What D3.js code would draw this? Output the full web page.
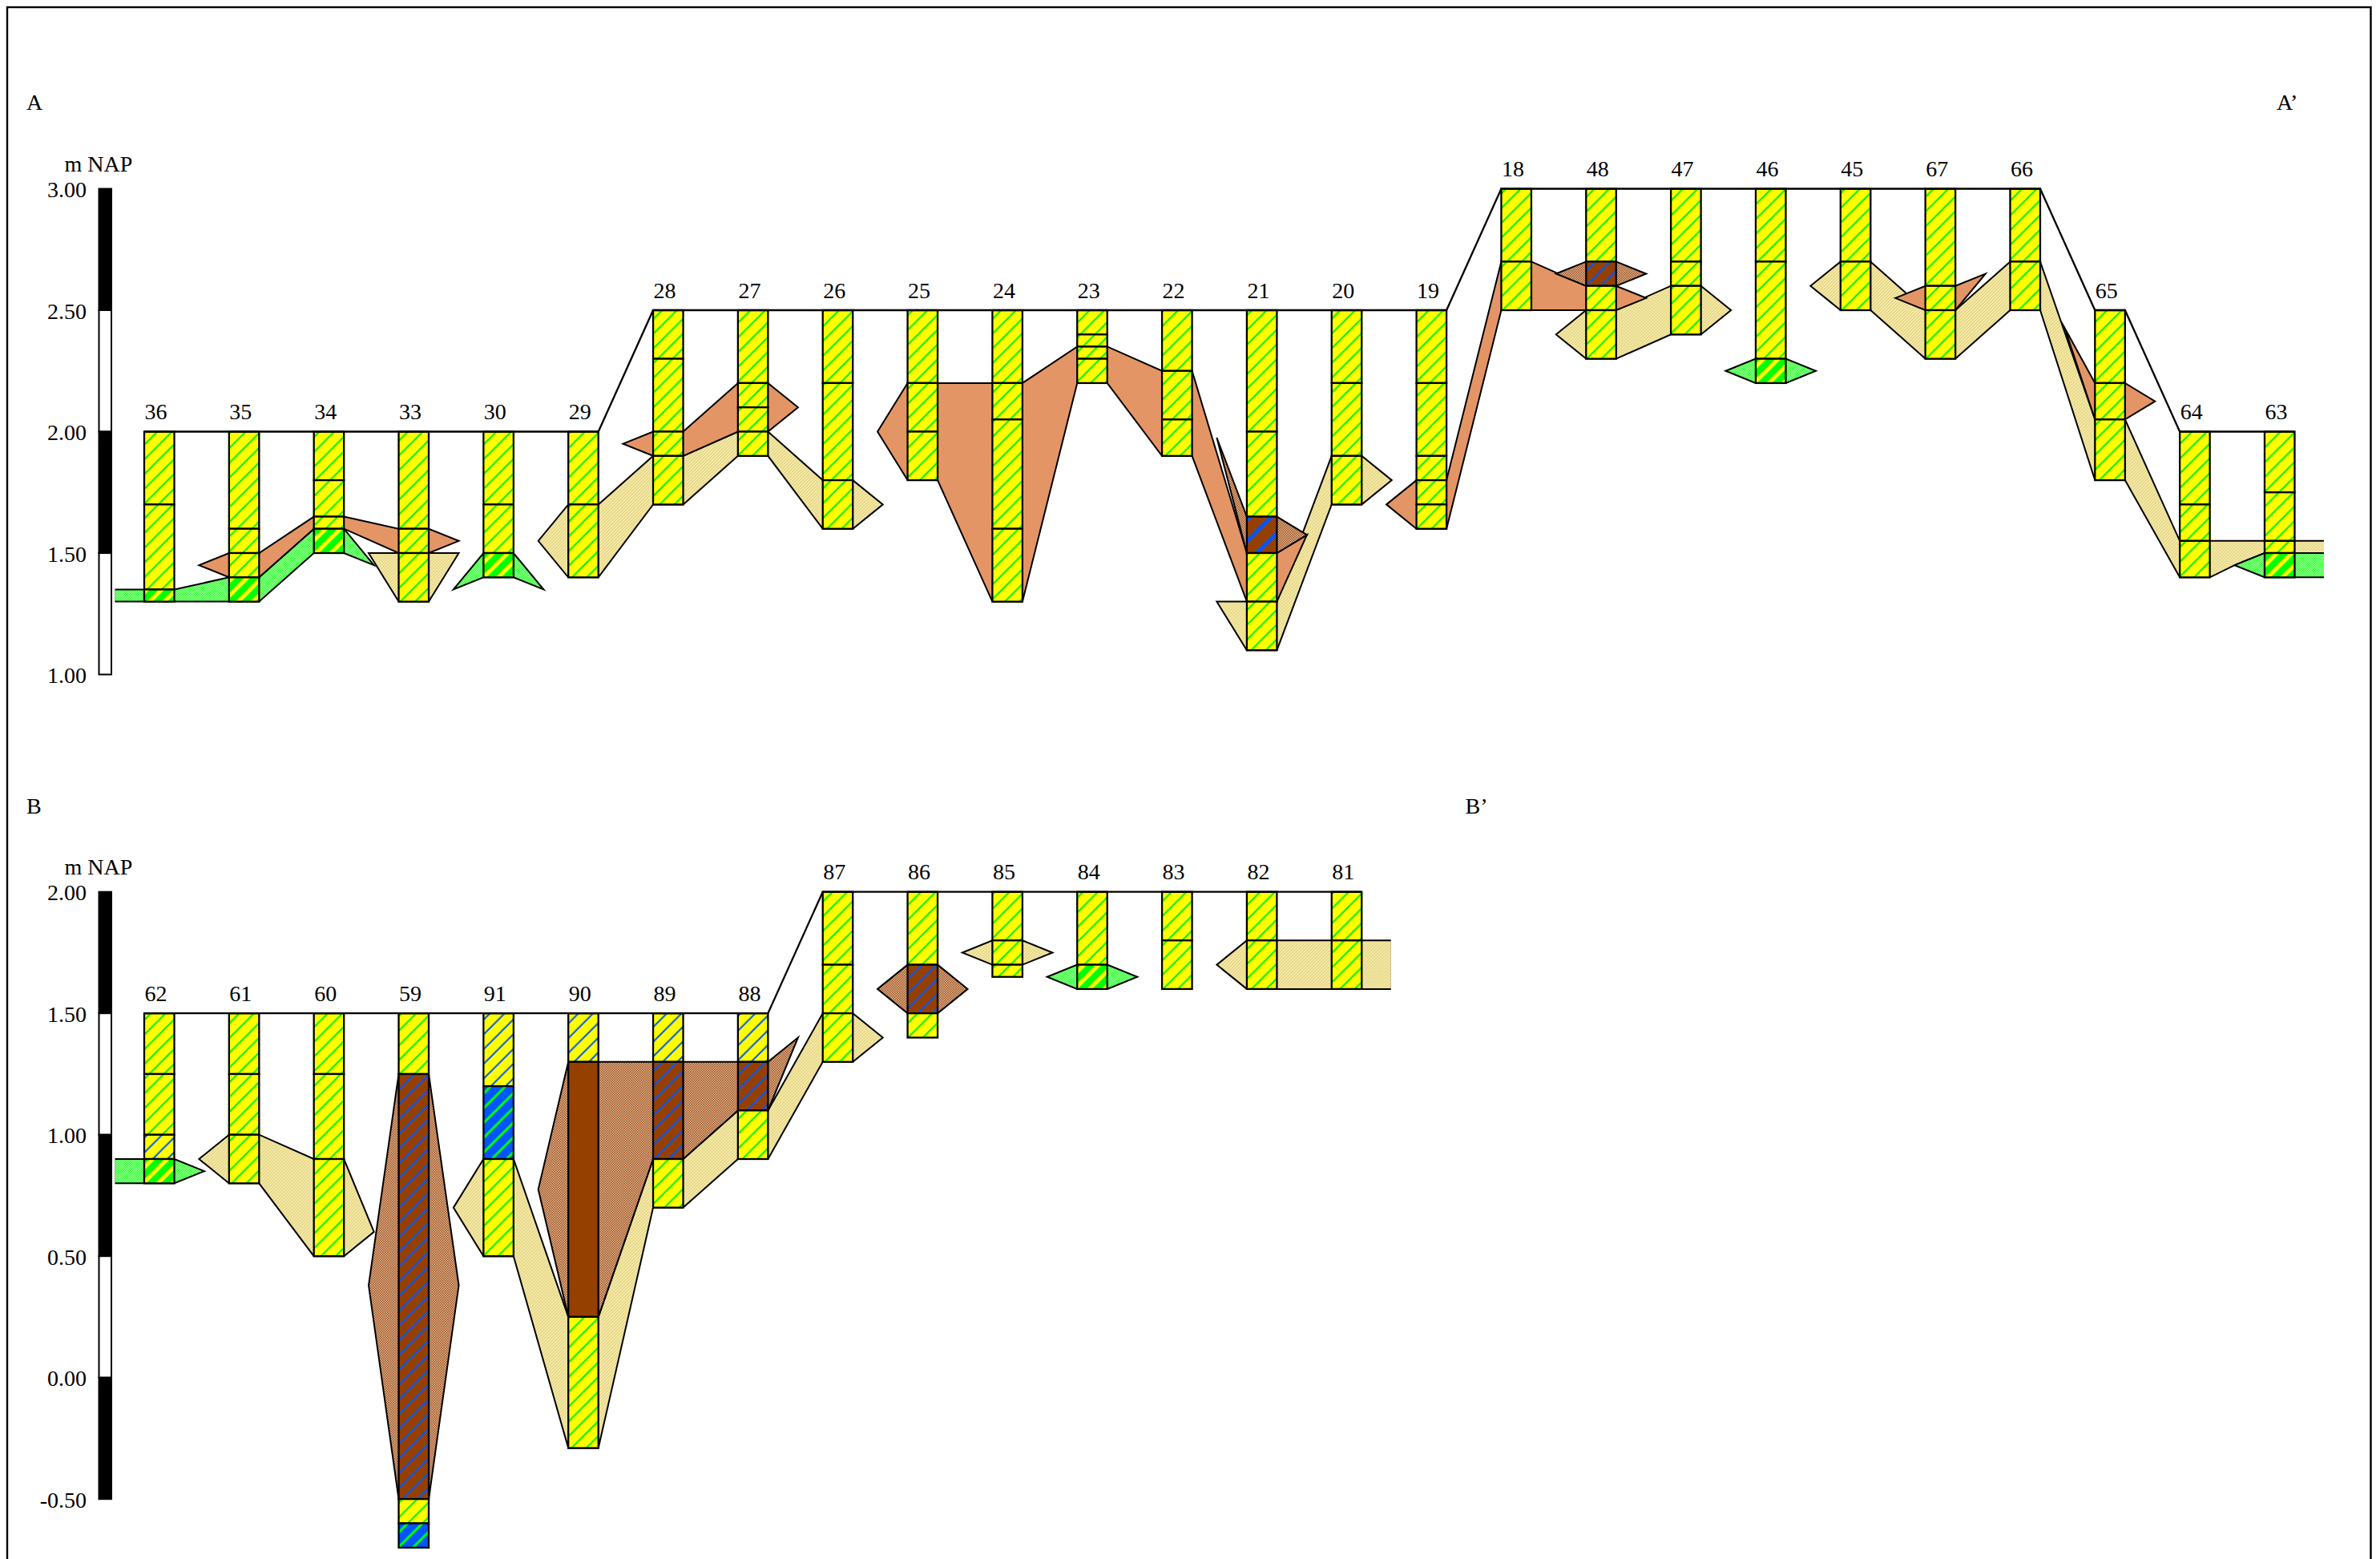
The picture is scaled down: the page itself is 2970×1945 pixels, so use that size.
<!DOCTYPE html>
<html>
<head>
<meta charset="utf-8">
<script src="https://d3js.org/d3.v7.min.js"></script>
<style>
  html, body { margin: 0; background: #fff; overflow: hidden; }
  text { font-family: "Liberation Serif", serif; font-size: 28px; fill: #000; }
</style>
</head>
<body>
<svg id="chart" width="2970" height="1945"></svg>
<script>
// Section A: boreholes, layer boundaries (m NAP) and the lithology of each layer
const idsA = ["36","35","34","33","30","29","28","27","26","25","24","23","22","21","20","19","18","48","47","46","45","67","66","65","64","63"];
const levelsA = [
  [2,1.7,1.35,1.3], [2,1.6,1.5,1.4,1.3], [2,1.8,1.65,1.6,1.5], [2,1.6,1.5,1.3], [2,1.7,1.5,1.4], [2,1.7,1.4],
  [2.5,2.3,2,1.9,1.7], [2.5,2.2,2.1,2,1.9], [2.5,2.2,1.8,1.6], [2.5,2.2,2,1.8], [2.5,2.2,2.05,1.6,1.3],
  [2.5,2.4,2.35,2.3,2.2], [2.5,2.25,2.05,1.9], [2.5,2,1.65,1.5,1.3,1.1], [2.5,2.2,1.9,1.7], [2.5,2.2,1.9,1.8,1.7,1.6],
  [3,2.7,2.5], [3,2.7,2.6,2.5,2.3], [3,2.7,2.6,2.4], [3,2.7,2.3,2.2], [3,2.7,2.5], [3,2.6,2.5,2.3], [3,2.7,2.5],
  [2.5,2.2,2.05,1.8], [2,1.7,1.55,1.4], [2,1.75,1.55,1.5,1.4]
];
const kindsA = [
  "ssg","sssg","sssg","sss","ssg","ss",
  "ssss","ssss","sss","sss","ssss",
  "ssss","sss","sstss","sss","sssss",
  "ss","sbss","sss","ssg","ss","sss","ss",
  "sss","sss","sssg"
];
const bodiesA = [
  ["tan","29<:1.55 29L:1.7 29R:1.7 28L:1.9 28R:1.9 27L:2 27R:2 26L:1.8 26R:1.8 26>:1.7 26R:1.6 26L:1.6 27R:1.9 27L:1.9 28R:1.7 28L:1.7 29R:1.4 29L:1.4"],
  ["tan","33<:1.5 33>:1.5 33R:1.3 33L:1.3"],
  ["tan","21<:1.3 21R:1.3 20L:1.9 20R:1.9 20>:1.8 20R:1.7 20L:1.7 21R:1.1 21L:1.1"],
  ["tan","48<:2.4 48L:2.5 48R:2.5 47L:2.6 47R:2.6 47>:2.5 47R:2.4 47L:2.4 48R:2.3 48L:2.3"],
  ["tan","45<:2.6 45L:2.7 45R:2.7 67L:2.5 67R:2.5 66L:2.7 66R:2.7 65L:2.05 65R:2.05 64L:1.55 63>:1.55 63>:1.5 63L:1.5 63<:1.45 64R:1.4 64L:1.4 65R:1.8 65L:1.8 66R:2.5 66L:2.5 67R:2.3 67L:2.3 45R:2.5 45L:2.5"],
  ["peat","36<:1.35 36R:1.35 35L:1.4 35R:1.4 34L:1.6 34R:1.6 34>:1.45 34R:1.5 34L:1.5 35R:1.3 36<:1.3"],
  ["peat","30<:1.35 30L:1.5 30R:1.5 30>:1.35 30R:1.4 30L:1.4"],
  ["peat","46<:2.25 46L:2.3 46R:2.3 46>:2.25 46R:2.2 46L:2.2"],
  ["peat","63<:1.45 63L:1.5 63>:1.5 63>:1.4 63L:1.4"],
  ["clay","35<:1.45 35L:1.5 35R:1.5 34L:1.65 34R:1.65 33L:1.6 33R:1.6 33>:1.55 33R:1.5 33L:1.5 34R:1.6 34L:1.6 35R:1.4 35L:1.4"],
  ["clay","28<:1.95 28L:2 28R:2 27L:2.2 27R:2.2 27>:2.1 27R:2 27L:2 28R:1.9 28L:1.9"],
  ["clay","25<:2 25L:2.2 24R:2.2 23L:2.35 23R:2.35 22L:2.25 22R:2.25 21L:1.5 21R:1.5 21>:1.575 21R:1.3 21L:1.3 22R:1.9 22L:1.9 23R:2.2 23L:2.2 24R:1.3 24L:1.3 25R:1.8 25L:1.8"],
  ["clay","19<:1.7 19L:1.8 19R:1.8 18L:2.7 18R:2.7 48L:2.6 48R:2.6 48>:2.55 48R:2.5 18L:2.5 19R:1.6 19L:1.6"],
  ["clay","67<:2.55 67L:2.6 67R:2.6 67>:2.65 67R:2.5 67L:2.5"],
  ["clay","65<:2.425 65L:2.2 65R:2.2 65>:2.125 65R:2.05 65L:2.05"],
  ["silt","21<:1.975 21L:1.65 21R:1.65 21>:1.575 21R:1.5 21L:1.5"],
  ["silt","48<:2.65 48L:2.7 48R:2.7 48>:2.65 48R:2.6 48L:2.6"]
];
const ticksA = [3, 2.5, 2, 1.5, 1];

// Section B
const idsB = ["62","61","60","59","91","90","89","88","87","86","85","84","83","82","81"];
const levelsB = [
  [1.5,1.25,1,0.9,0.8], [1.5,1.25,1,0.8], [1.5,1.25,0.9,0.5], [1.5,1.25,-0.5,-0.6,-0.7], [1.5,1.2,0.9,0.5],
  [1.5,1.3,0.25,-0.29], [1.5,1.3,0.9,0.7], [1.5,1.3,1.1,0.9], [2,1.7,1.5,1.3], [2,1.7,1.5,1.4],
  [2,1.8,1.7,1.65], [2,1.7,1.6], [2,1.8,1.6], [2,1.8,1.6], [2,1.8,1.6]
];
const kindsB = ["ssyg","sss","sss","sbsc","ycs","yps","ybs","ybs","sss","sbs","sss","sg","ss","ss","ss"];
const bodiesB = [
  ["tan","61<:0.9 61L:1 61R:1 60L:0.9 60R:0.9 60>:0.6 60R:0.5 60L:0.5 61R:0.8 61L:0.8"],
  ["tan","91<:0.7 91L:0.9 91R:0.9 90L:0.25 90R:0.25 89L:0.9 89R:0.9 88L:1.1 88R:1.1 87L:1.5 87R:1.5 87>:1.4 87R:1.3 87L:1.3 88R:0.9 88L:0.9 89R:0.7 89L:0.7 90R:-0.29 90L:-0.29 91R:0.5 91L:0.5"],
  ["tan","85<:1.75 85L:1.8 85R:1.8 85>:1.75 85R:1.7 85L:1.7"],
  ["tan","82<:1.7 82L:1.8 81>:1.8 81>:1.6 82L:1.6"],
  ["peat","62<:0.9 62R:0.9 62>:0.85 62R:0.8 62<:0.8"],
  ["peat","84<:1.65 84L:1.7 84R:1.7 84>:1.65 84R:1.6 84L:1.6"],
  ["silt","59<:0.38 59L:1.25 59R:1.25 59>:0.38 59R:-0.5 59L:-0.5"],
  ["silt","90<:0.775 90L:1.3 88R:1.3 88>:1.4 88R:1.1 88L:1.1 89R:0.9 89L:0.9 90R:0.25 90L:0.25"],
  ["silt","86<:1.6 86L:1.7 86R:1.7 86>:1.6 86R:1.5 86L:1.5"]
];
const ticksB = [2, 1.5, 1, 0.5, 0, -0.5];

const svg = d3.select("#chart");
const defs = svg.append("defs");

// Wide diagonal hatching for the borehole layers
function hatch(id, bg, fg, p, w) {
  const pat = defs.append("pattern").attr("id", id)
    .attr("patternUnits", "userSpaceOnUse").attr("width", p).attr("height", p)
    .attr("patternTransform", "translate(17.3,0)");
  pat.append("rect").attr("width", p).attr("height", p).attr("fill", bg);
  pat.append("path")
    .attr("d", `M-2,2L2,-2M0,${p}L${p},0M${p-2},${p+2}L${p+2},${p-2}`)
    .attr("stroke", fg).attr("stroke-width", w);
}
// Very fine screen for the bodies between boreholes
function screen(id, a, b, c) {
  const pat = defs.append("pattern").attr("id", id)
    .attr("patternUnits", "userSpaceOnUse").attr("width", 2 * c).attr("height", 2 * c);
  pat.append("rect").attr("width", 2 * c).attr("height", 2 * c).attr("fill", a);
  pat.append("rect").attr("width", c).attr("height", c).attr("fill", b);
  pat.append("rect").attr("x", c).attr("y", c).attr("width", c).attr("height", c).attr("fill", b);
}

hatch("k-s", "#ffff00", "#00ee00", 18.4, 2);
hatch("k-g", "#00ff00", "#ffff00", 18.4, 5);
hatch("k-y", "#ffff00", "#0055ff", 18.4, 2);
hatch("k-b", "#964000", "#0055ff", 18.4, 2.2);
hatch("k-t", "#964000", "#0055ff", 27, 5);
hatch("k-c", "#0055ff", "#00ff00", 18.4, 3);
hatch("tan", "#f8f0b8", "#e4d27c", 4, 1.5);
screen("peat", "#22ff22", "#a8ffa8", 1.5);
screen("silt", "#a05020", "#e0bc98", 1.5);

const bodyFill = { tan: "url(#tan)", peat: "url(#peat)", silt: "url(#silt)", clay: "#e49565" };
const kindFill = k => k === "p" ? "#964000" : `url(#k-${k})`;

function drawSection(name, ids, levels, kinds, bodies, ticks, y0) {
  const top = ticks[0], bottom = ticks[ticks.length - 1];
  const y = d3.scaleLinear().domain([top, bottom])
    .range([y0, y0 + (top - bottom) * 303]);
  const step = 105.84, bw = 37.5;
  const x = d3.scaleBand().domain(ids)
    .range([180, 180 + (ids.length - 1) * step + bw])
    .paddingInner(1 - bw / step).paddingOuter(0);

  const g = svg.append("g");

  // scale bar with alternating black and white half metres
  g.selectAll(".bar").data(d3.pairs(ticks)).enter().append("rect")
    .attr("x", 123.5).attr("width", 15.5)
    .attr("y", d => y(d[0])).attr("height", d => y(d[1]) - y(d[0]))
    .attr("fill", (d, i) => i % 2 ? "#fff" : "#000")
    .attr("stroke", "#000").attr("stroke-width", 2);

  const axis = g.append("g").attr("transform", "translate(108,0)")
    .call(d3.axisLeft(y).tickValues(ticks).tickSize(0).tickPadding(0).tickFormat(d => d.toFixed(2)));
  axis.select(".domain").remove();
  axis.selectAll("text").attr("dy", "0.36em");

  g.append("text").attr("x", 80.5).attr("y", y0 - 22).text("m NAP");

  // bodies connecting the boreholes, "id+side:level"
  const px = tok => {
    const id = tok.slice(0, 2), side = tok[2];
    if (side === "L") return x(id);
    if (side === "R") return x(id) + bw;
    if (side === "<") return x(id) - bw;
    return x(id) + 2 * bw;
  };
  const line = d3.line().x(d => d.x).y(d => d.y);
  const parsed = bodies.map(([kind, s]) => ({
    kind,
    pts: s.split(" ").map(t => {
      const [pos, lev] = t.split(":");
      return { x: px(pos), y: y(+lev) };
    })
  }));

  // layers run on past the ends of the section, so their closing edge must not show
  const x0 = x(ids[0]) - bw + 1, x1 = x(ids[ids.length - 1]) + 2 * bw - 1;
  defs.append("clipPath").attr("id", `clip-${name}`).append("rect")
    .attr("x", x0).attr("y", 0).attr("width", x1 - x0).attr("height", 1945);

  g.append("g").attr("clip-path", `url(#clip-${name})`)
    .selectAll(".body").data(parsed).enter().append("path")
    .attr("d", d => line(d.pts) + "Z")
    .attr("fill", d => bodyFill[d.kind])
    .attr("stroke", "#000").attr("stroke-width", 2).attr("stroke-miterlimit", 12);

  // borehole columns
  ids.forEach((id, i) => {
    const segs = d3.pairs(levels[i]).map((d, j) => ({ top: d[0], bot: d[1], kind: kinds[i][j] }));
    g.selectAll(null).data(segs).enter().append("rect")
      .attr("x", x(id)).attr("width", x.bandwidth())
      .attr("y", d => y(d.top)).attr("height", d => y(d.bot) - y(d.top))
      .attr("fill", d => kindFill(d.kind))
      .attr("stroke", "#000").attr("stroke-width", 2.3);
    g.append("text").attr("x", x(id) + 0.5).attr("y", y(levels[i][0]) - 15.5).text(id);
  });

  // ground surface
  const surface = ids.flatMap((id, i) => [
    { x: x(id), y: y(levels[i][0]) }, { x: x(id) + bw, y: y(levels[i][0]) }
  ]);
  g.append("path").attr("d", line(surface)).attr("fill", "none")
    .attr("stroke", "#000").attr("stroke-width", 2.3);
}

// frame runs off the bottom of the page
svg.append("rect").attr("x", 9).attr("y", 9).attr("width", 2949.5).attr("height", 2100)
  .attr("fill", "none").attr("stroke", "#000").attr("stroke-width", 2.4);

svg.append("text").attr("x", 33).attr("y", 136.5).text("A");
svg.append("text").attr("x", 2841).attr("y", 136.5).text("A’");
svg.append("text").attr("x", 33).attr("y", 1014.5).text("B");
svg.append("text").attr("x", 1828.5).attr("y", 1014.5).text("B’");

drawSection("a", idsA, levelsA, kindsA, bodiesA, ticksA, 235.5);
drawSection("b", idsB, levelsB, kindsB, bodiesB, ticksB, 1112.7);
</script>
</body>
</html>
